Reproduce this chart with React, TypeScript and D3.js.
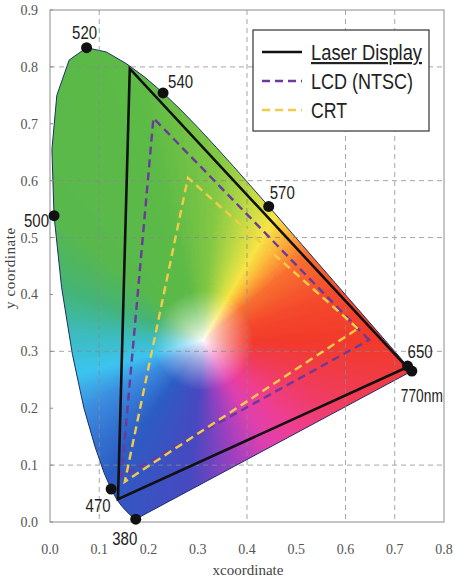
import React, { useEffect, useMemo } from 'react';
import * as d3 from 'd3';

const W = 455;
const H = 577;

// CIE 1931 2° spectral locus
const locusNm = [
  380, 385, 390, 395, 400, 405, 410, 415, 420, 425, 430, 435, 440, 445, 450, 455, 460, 465, 470, 475,
  480, 485, 490, 495, 500, 505, 510, 515, 520, 525, 530, 535, 540, 545, 550, 555, 560, 565, 570, 575,
  580, 585, 590, 595, 600, 605, 610, 615, 620, 625, 630, 635, 640, 645, 650, 655, 660, 665, 670, 680,
  690, 700, 770,
];
const locusX = [
  0.1741, 0.174, 0.1738, 0.1736, 0.1733, 0.173, 0.1726, 0.1721, 0.1714, 0.1703, 0.1689, 0.1669, 0.1644,
  0.1611, 0.1566, 0.151, 0.144, 0.1355, 0.1241, 0.1096, 0.0913, 0.0687, 0.0454, 0.0235, 0.0082, 0.0039,
  0.0139, 0.0389, 0.0743, 0.1142, 0.1547, 0.1929, 0.2296, 0.2658, 0.3016, 0.3373, 0.3731, 0.4087, 0.4441,
  0.4788, 0.5125, 0.5448, 0.5752, 0.6029, 0.627, 0.6482, 0.6658, 0.6801, 0.6915, 0.7006, 0.7079, 0.714,
  0.719, 0.723, 0.726, 0.7283, 0.73, 0.7311, 0.732, 0.7334, 0.7344, 0.7347, 0.7347,
];
const locusY = [
  0.005, 0.005, 0.0049, 0.0049, 0.0048, 0.0048, 0.0048, 0.0048, 0.0051, 0.0058, 0.0069, 0.0086, 0.0109,
  0.0138, 0.0177, 0.0227, 0.0297, 0.0399, 0.0578, 0.0868, 0.1327, 0.2007, 0.295, 0.4127, 0.5384, 0.6548,
  0.7502, 0.812, 0.8338, 0.8262, 0.8059, 0.7816, 0.7543, 0.7243, 0.6923, 0.6589, 0.6245, 0.5896, 0.5547,
  0.5202, 0.4866, 0.4544, 0.4242, 0.3965, 0.3725, 0.3514, 0.334, 0.3197, 0.3083, 0.2993, 0.292, 0.2859,
  0.2809, 0.277, 0.274, 0.2717, 0.27, 0.2689, 0.268, 0.2666, 0.2656, 0.2653, 0.2653,
];

// marked wavelengths on the locus
const markNm = [520, 540, 570, 500, 470, 380, 650, 770];
const markText = ['520', '540', '570', '500', '470', '380', '650', '770nm'];

// display gamuts (R, G, B primaries)
const gamutNames = ['Laser Display', 'LCD (NTSC)', 'CRT'];
const laserX = [0.725, 0.162, 0.138];
const laserY = [0.272, 0.797, 0.04];
const lcdX = [0.648, 0.21, 0.145];
const lcdY = [0.32, 0.71, 0.08];
const crtX = [0.625, 0.28, 0.152];
const crtY = [0.34, 0.605, 0.071];

const xTicks = [0, 0.1, 0.2, 0.3, 0.4, 0.5, 0.6, 0.7, 0.8];
const yTicks = [0, 0.1, 0.2, 0.3, 0.4, 0.5, 0.6, 0.7, 0.8, 0.9];
const xGrid = [0.1, 0.4, 0.6, 0.7];
const yGrid = [0.1, 0.3, 0.5, 0.6, 0.8];

const whiteX = 0.31;
const whiteY = 0.32;

// label placement around each marker: [dx, dy, anchor]
const labelOffsets: Record<number, [number, number, string]> = {
  520: [-2, -9, 'middle'],
  540: [5, -5, 'start'],
  570: [1, -7, 'start'],
  500: [-5, 11, 'end'],
  470: [-13, 23, 'middle'],
  380: [-11, 26, 'middle'],
  650: [0, -8, 'start'],
  770: [-11, 31, 'start'],
};

const gamutStyles = [
  { stroke: '#111111', width: 2.6, dash: null as string | null },
  { stroke: '#6b3a9c', width: 2.4, dash: '8,5' },
  { stroke: '#f2cc48', width: 2.4, dash: '8,5' },
];

// hue around the white point, by angle in screen space (degrees, ccw from +x)
const hueAngles = [0, 20, 40, 52, 60, 70, 85, 105, 140, 160, 178, 195, 210, 235, 265, 285, 300, 315, 335, 360];
const hueColors = [
  '#f23a2a', '#f44a2c', '#f87030', '#fbb83a', '#f8e444', '#c8dc44', '#84c844', '#5cba46', '#58b84c',
  '#44b478', '#3cbcc0', '#3cc4f0', '#3c8ee0', '#2c5cc4', '#4848c0', '#a040c0', '#dc40b0', '#ee3e94',
  '#f03c60', '#f23a2a',
];

const sans = '"Liberation Sans", Arial, sans-serif';
const serif = '"Liberation Serif", "Times New Roman", serif';

const x = d3.scaleLinear().domain([0, 0.8]).range([50, 444]);
const y = d3.scaleLinear().domain([0, 0.9]).range([522, 10]);

function paintField(): string {
  const canvas = document.createElement('canvas');
  canvas.width = W;
  canvas.height = H;
  const ctx = canvas.getContext('2d');
  if (!ctx) return '';
  const img = ctx.createImageData(W, H);
  const hue = d3.scaleLinear<string>().domain(hueAngles).range(hueColors).interpolate(d3.interpolateRgb);
  const lut = d3.range(361).map((a) => d3.rgb(hue(a)));
  const wx = x(whiteX);
  const wy = y(whiteY);
  for (let py = Math.floor(y(0.85)); py <= Math.ceil(y(0)); py++) {
    for (let px = Math.floor(x(0)); px <= Math.ceil(x(0.75)); px++) {
      const dx = px - wx;
      const dy = wy - py;
      let a = (Math.atan2(dy, dx) * 180) / Math.PI;
      if (a < 0) a += 360;
      const t = Math.pow(Math.min(1, Math.hypot(dx, dy) / 50), 0.8);
      const c = lut[Math.round(a)];
      const i = (py * W + px) * 4;
      img.data[i] = 255 + (c.r - 255) * t;
      img.data[i + 1] = 255 + (c.g - 255) * t;
      img.data[i + 2] = 255 + (c.b - 255) * t;
      img.data[i + 3] = 255;
    }
  }
  ctx.putImageData(img, 0, 0);
  return canvas.toDataURL();
}

// condensed look: squeeze the glyphs into a fixed width
const labelWidth = (s: string) => (s.length > 3 ? 42 : 25);
const legendWidths = [111, 102, 36];

export default function App() {
  useEffect(() => {
    document.body.style.margin = '0';
  }, []);

  const field = useMemo(() => paintField(), []);

  const pts = locusNm.map((_, i) => [x(locusX[i]), y(locusY[i])] as [number, number]);
  const locusPath = d3.line()(pts) + 'Z';

  const gamuts = [
    [laserX, laserY],
    [lcdX, lcdY],
    [crtX, crtY],
  ].map(([gx, gy]) => d3.line()(gx.map((v, i) => [x(v), y(gy[i])] as [number, number])) + 'Z');

  const marks = markNm.map((nm, k) => {
    const i = locusNm.indexOf(nm);
    return { nm, text: markText[k], cx: x(locusX[i]), cy: y(locusY[i]) };
  });

  return (
    <svg width={W} height={H} style={{ display: 'block', background: '#fff' }}>
      <defs>
        <clipPath id="locus">
          <path d={locusPath} />
        </clipPath>
      </defs>

      {/* colour field inside the spectral locus */}
      <image href={field} x={0} y={0} width={W} height={H} clipPath="url(#locus)" />
      <path d={locusPath} fill="none" stroke="#1d2f66" strokeWidth={1} />

      {/* grid */}
      <g stroke="#8a8a8a" strokeWidth={1} strokeDasharray="5,4" opacity={0.75}>
        {xGrid.map((v) => (
          <line key={'gx' + v} x1={x(v)} x2={x(v)} y1={y(0.9)} y2={y(0)} />
        ))}
        {yGrid.map((v) => (
          <line key={'gy' + v} x1={x(0)} x2={x(0.8)} y1={y(v)} y2={y(v)} />
        ))}
      </g>

      {/* frame and ticks */}
      <rect x={x(0)} y={y(0.9)} width={x(0.8) - x(0)} height={y(0) - y(0.9)} fill="none" stroke="#8c8c8c" />
      <g stroke="#8c8c8c">
        {yTicks.map((v) => (
          <line key={'ty' + v} x1={x(0)} x2={x(0) + 3} y1={y(v)} y2={y(v)} />
        ))}
      </g>
      <g fontFamily={serif} fontSize={14} fill="#555">
        {xTicks.map((v) => (
          <text key={'lx' + v} x={x(v)} y={554} textAnchor="middle">
            {v.toFixed(1)}
          </text>
        ))}
        {yTicks.map((v) => (
          <text key={'ly' + v} x={38} y={y(v) + 5} textAnchor="end">
            {v.toFixed(1)}
          </text>
        ))}
      </g>
      <text x={248} y={575} textAnchor="middle" fontFamily={serif} fontSize={15} fill="#444">
        xcoordinate
      </text>
      <text
        transform="translate(15,268) rotate(-90)"
        textAnchor="middle"
        fontFamily={serif}
        fontSize={15}
        letterSpacing={0.6}
        fill="#444"
      >
        y coordinate
      </text>

      {/* gamut triangles */}
      {gamuts.map((d, i) => (
        <path
          key={gamutNames[i]}
          d={d}
          fill="none"
          stroke={gamutStyles[i].stroke}
          strokeWidth={gamutStyles[i].width}
          strokeDasharray={gamutStyles[i].dash ?? undefined}
          strokeLinejoin="miter"
        />
      ))}

      {/* wavelength markers */}
      {marks.map((m) => {
        const [dx, dy, anchor] = labelOffsets[m.nm];
        return (
          <g key={m.nm}>
            <circle cx={m.cx} cy={m.cy} r={5.5} fill="#111" />
            <text
              x={m.cx + dx}
              y={m.cy + dy}
              textAnchor={anchor as 'start' | 'middle' | 'end'}
              fontFamily={sans}
              fontSize={18}
              textLength={labelWidth(m.text)}
              lengthAdjust="spacingAndGlyphs"
              fill="#222"
            >
              {m.text}
            </text>
          </g>
        );
      })}

      {/* legend */}
      <g>
        <rect x={253} y={30} width={176} height={101} fill="#fff" stroke="#333" strokeWidth={1.2} />
        {gamutNames.map((name, i) => {
          const ly = 52 + i * 29;
          return (
            <g key={'lg' + name}>
              <line
                x1={262}
                x2={302}
                y1={ly}
                y2={ly}
                stroke={gamutStyles[i].stroke}
                strokeWidth={gamutStyles[i].width}
                strokeDasharray={gamutStyles[i].dash ?? undefined}
              />
              <text
                x={311}
                y={ly + 8}
                fontFamily={sans}
                fontSize={22}
                textLength={legendWidths[i]}
                lengthAdjust="spacingAndGlyphs"
                fill="#222"
                textDecoration={i === 0 ? 'underline' : undefined}
              >
                {name}
              </text>
            </g>
          );
        })}
      </g>
    </svg>
  );
}
